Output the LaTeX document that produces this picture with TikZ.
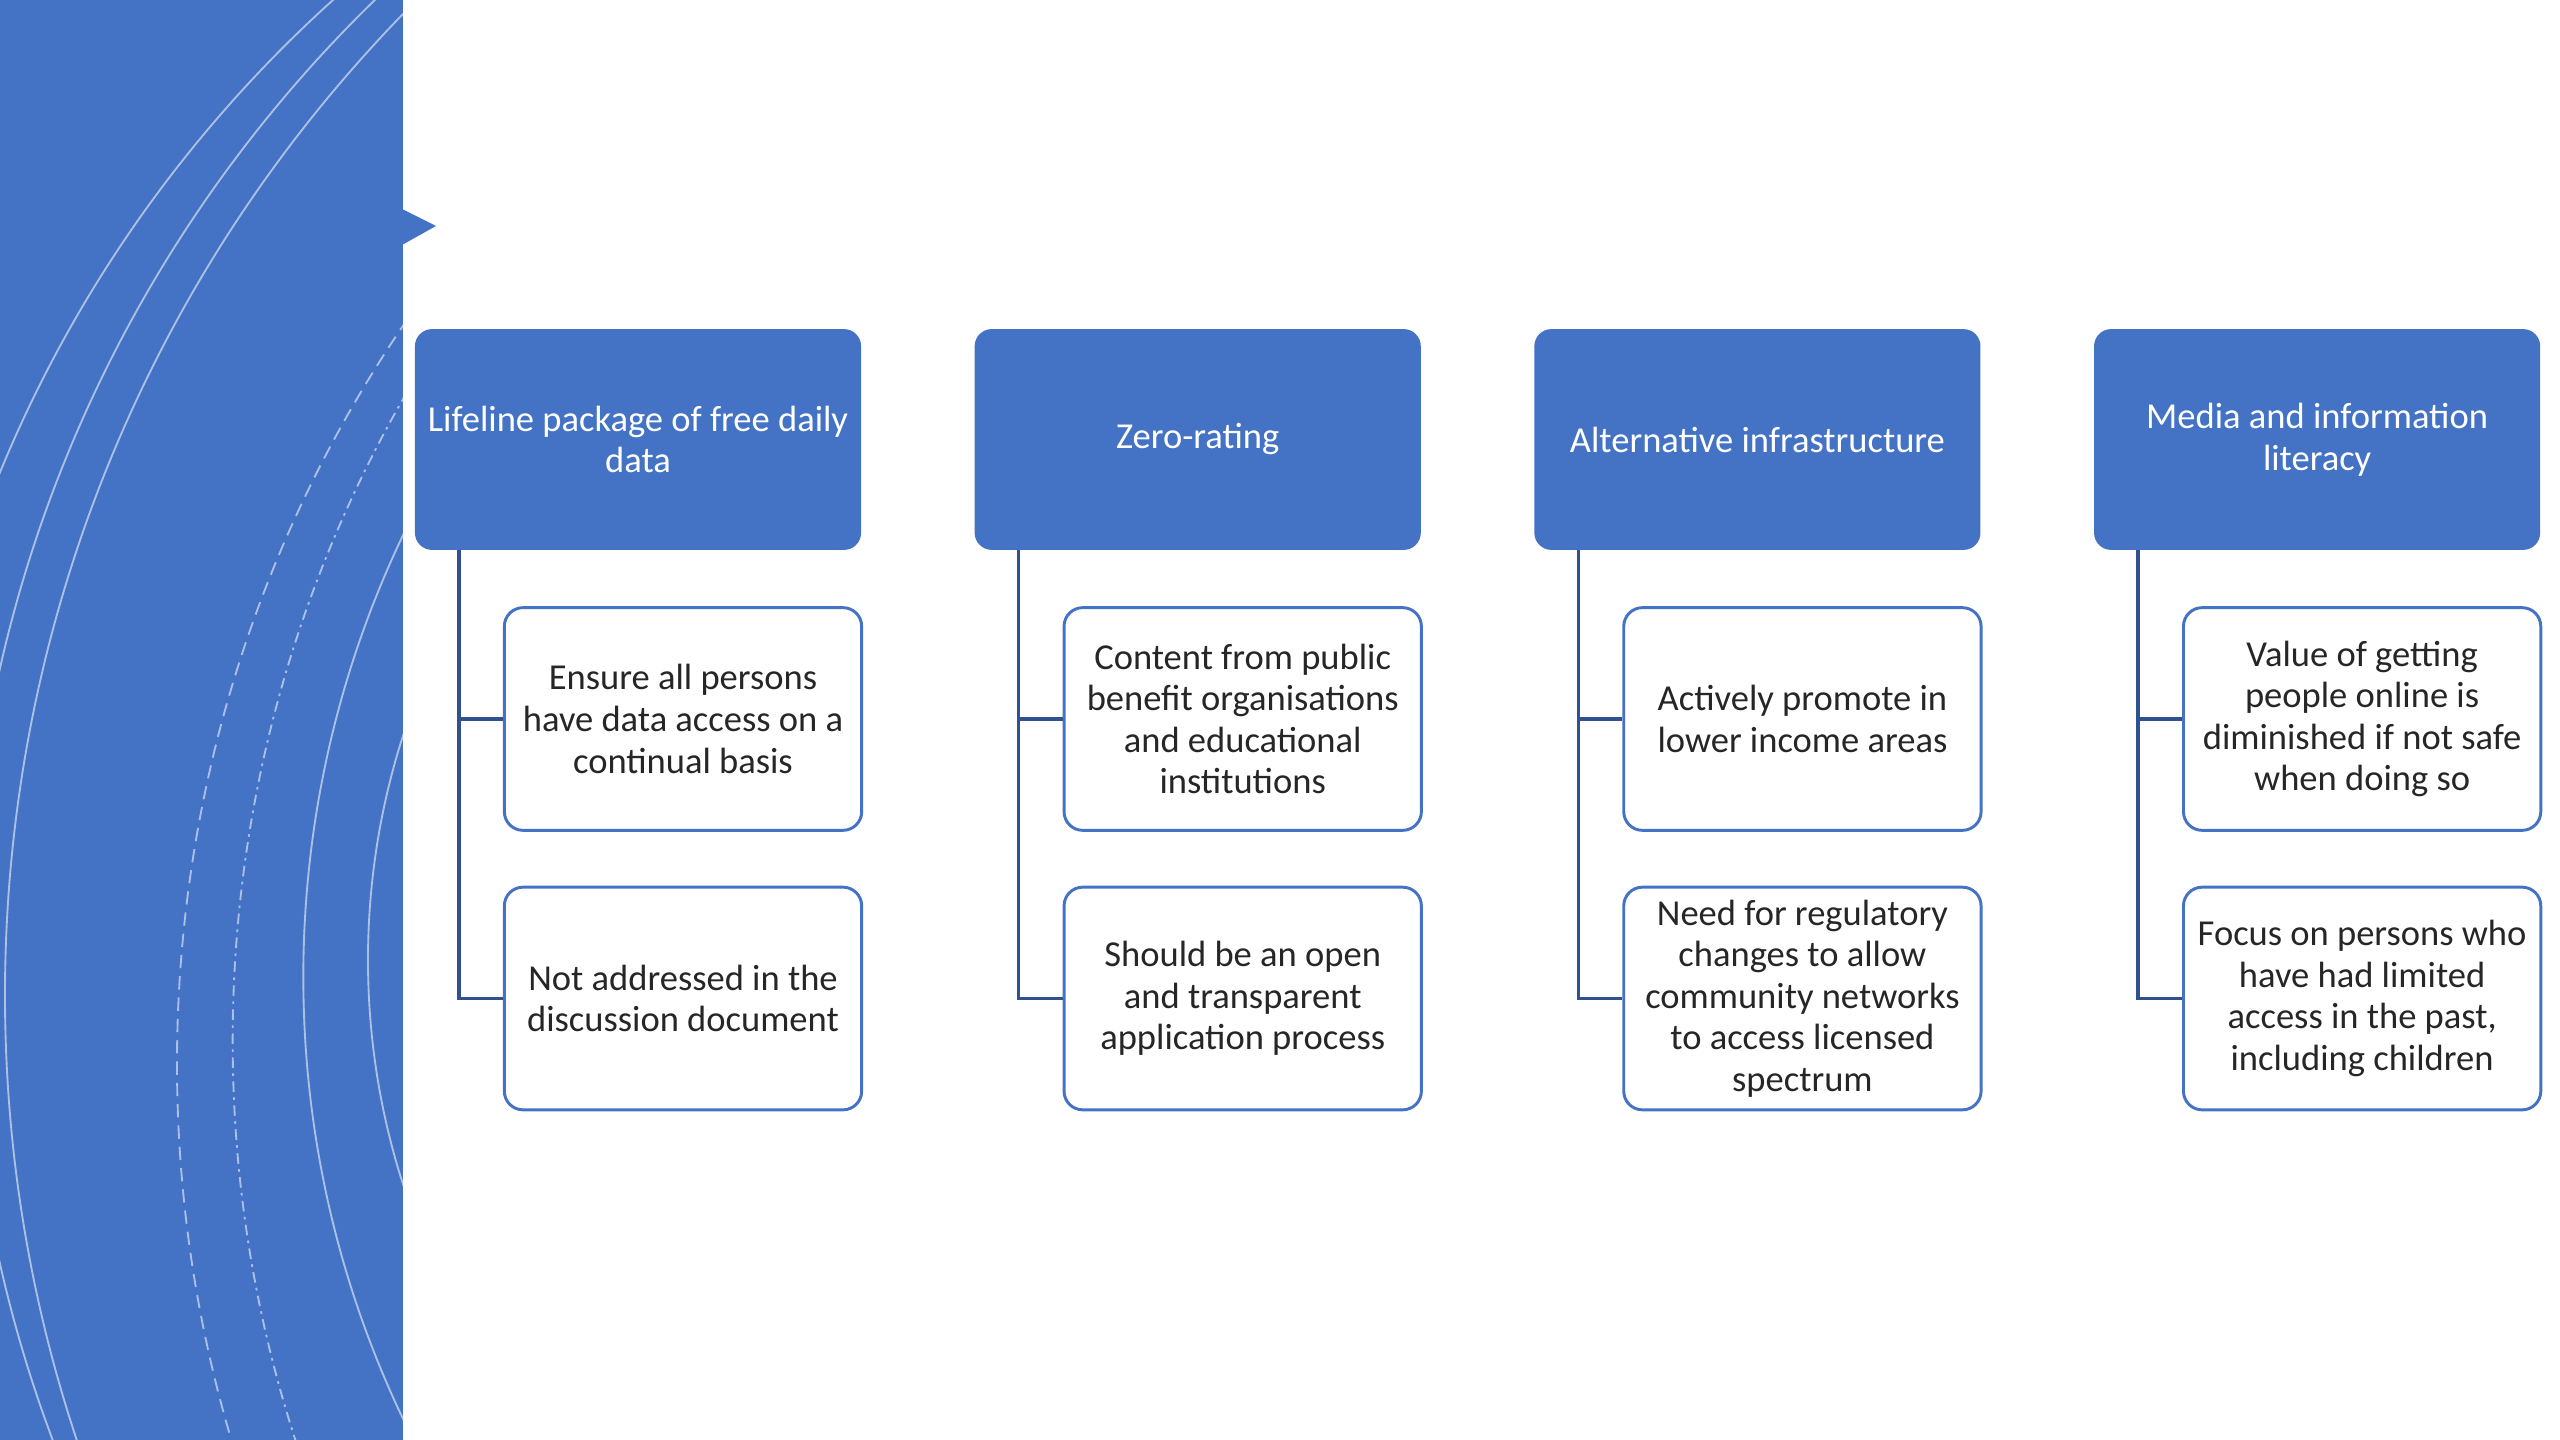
\documentclass[tikz,border=0pt]{standalone}
\usepackage{fontspec}
\setmainfont{Carlito}
\usetikzlibrary{calc}
\definecolor{accent}{HTML}{4472C4}
\definecolor{accentdark}{HTML}{2F528F}
\definecolor{txt}{HTML}{262626}
\tikzset{
  x=0.375pt, y=-0.375pt,
  txtfont/.style={font=\fontsize{13.7}{15.6}\selectfont},
  headbox/.style={txtfont, fill=accent, draw=accent, line width=0.8pt, rounded corners=6pt,
    minimum width=166.5pt, minimum height=82pt, inner sep=2pt, align=center, text=white},
  childbox/.style={txtfont, fill=white, draw=accent, line width=1.1pt, rounded corners=7pt,
    minimum width=134pt, minimum height=83.5pt, inner sep=2pt, align=center, text=txt},
  conn/.style={draw=accentdark, line width=1.2pt},
  arcline/.style={draw=white!55!accent, line width=0.7pt},
}
\begin{document}
\begin{tikzpicture}
\useasboundingbox (0,0) rectangle (2560,1440);
\fill[white] (0,0) rectangle (2560,1440);
% left panel
\fill[accent] (0,0) rectangle (403,1440);
\fill[accent] (402,209) -- (436,226) -- (402,245) -- cycle;
\begin{scope}
  \clip (0,0) rectangle (403,1440);
  \draw[arcline] (1203,966) circle[radius=487.5pt];
  \draw[arcline] (1315,966) circle[radius=505.5pt];
  \draw[arcline] (1413,995) circle[radius=528pt];
  \draw[arcline, dash pattern=on 5pt off 3pt] (1495,1064) circle[radius=494.25pt];
  \draw[arcline, dash pattern=on 4pt off 2pt on 1pt off 2pt] (1526,1041) circle[radius=485pt];
  \draw[arcline] (1330,977) circle[radius=385pt];
  \draw[arcline] (1100,960) circle[radius=274.5pt];
\end{scope}

% column 1
\node[headbox] (h1) at (638,439.5) {Lifeline package of free daily\\data};
\node[childbox] (c1a) at (683,719) {Ensure all persons\\have data access on a\\continual basis};
\node[childbox] (c1b) at (683,998.5) {Not addressed in the\\discussion document};
% column 2
\node[headbox] (h2) at (1197.7,439.5) {Zero-rating};
\node[childbox] (c2a) at (1242.7,719) {Content from public\\benefit organisations\\and educational\\institutions};
\node[childbox] (c2b) at (1242.7,998.5) {Should be an open\\and transparent\\application process};
% column 3
\node[headbox] (h3) at (1757.4,439.5) {Alternative infrastructure};
\node[childbox] (c3a) at (1802.4,719) {Actively promote in\\lower income areas};
\node[childbox] (c3b) at (1802.4,998.5) {Need for regulatory\\changes to allow\\community networks\\to access licensed\\spectrum};
% column 4
\node[headbox] (h4) at (2317.1,439.5) {Media and information\\literacy};
\node[childbox] (c4a) at (2362.1,719) {Value of getting\\people online is\\diminished if not safe\\when doing so};
\node[childbox] (c4b) at (2362.1,998.5) {Focus on persons who\\have had limited\\access in the past,\\including children};

% connectors
\foreach \i in {1,2,3,4}{
  \coordinate (v\i) at ($(h\i.south west)+(44,0)$);
  \draw[conn] (v\i) |- (c\i b.west);
  \draw[conn] (v\i |- c\i a.west) -- (c\i a.west);
}
\end{tikzpicture}
\end{document}
